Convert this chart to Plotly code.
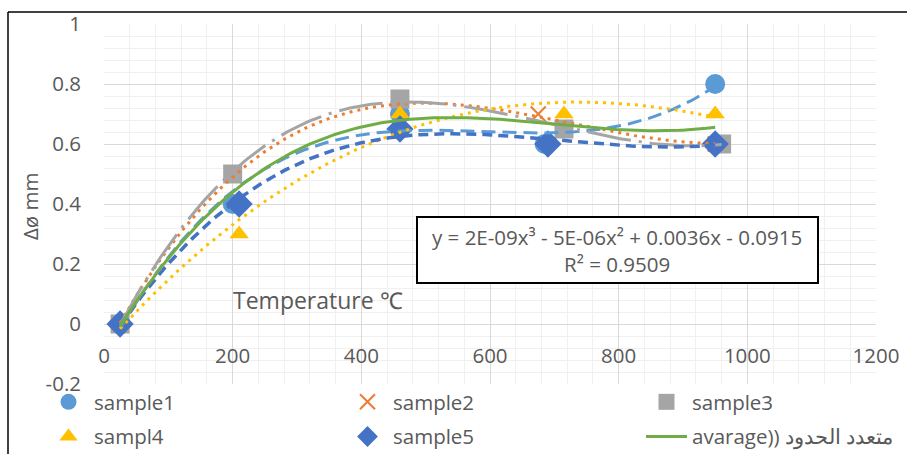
import numpy as np
import plotly.graph_objects as go

# ---- data ----
s1_x = [25, 200, 460, 685, 950]
s1_y = [0, 0.40, 0.70, 0.60, 0.80]
s2_x = [25, 200, 460, 675, 950]
s2_y = [0, 0.50, 0.72, 0.70, 0.60]
s3_x = [25, 200, 460, 715, 960]
s3_y = [0, 0.50, 0.75, 0.65, 0.60]
s4_x = [25, 210, 460, 715, 950]
s4_y = [0, 0.30, 0.70, 0.70, 0.70]
s5_x = [25, 210, 460, 690, 950]
s5_y = [0, 0.40, 0.65, 0.60, 0.60]
avg_x = [25, 200, 460, 700, 950]
avg_y = list(np.mean([s1_y, s2_y, s3_y, s4_y, s5_y], axis=0))

x_ticks = [0, 200, 400, 600, 800, 1000, 1200]
x_tick_labels = ["0", "200", "400", "600", "800", "1000", "1200"]
y_ticks = [-0.2, 0, 0.2, 0.4, 0.6, 0.8, 1]
y_tick_labels = ["-0.2", "0", "0.2", "0.4", "0.6", "0.8", "1"]

names = ["sample1", "sample2", "sample3", "sampl4", "sample5"]
avg_name = "avarage)) متعدد الحدود"
equation = "y = 2E-09x³ - 5E-06x² + 0.0036x - 0.0915<br>R² = 0.9509"

FONT = "Open Sans"
TXT = "#595959"

W, H = 907, 454
ML, MR, MT, MB = 104, 31, 24, 70
PW, PH = W - ML - MR, H - MT - MB


def px_x(px):
    return (px - ML) / PW


def px_y(py):
    return (H - MB - py) / PH


def trend(xs, ys, deg):
    c = np.polyfit(xs, ys, deg)
    xx = np.linspace(min(xs), max(xs), 200)
    return xx, np.polyval(c, xx)


series = [
    (s1_x, s1_y, "circle", 20, "#5B9BD5", 3, "14px,7px", 3, "legend"),
    (s2_x, s2_y, "x-thin-open", 15, "#ED7D31", 3, "3px,5px", 3, "legend2"),
    (s3_x, s3_y, "square", 19, "#A5A5A5", 3, "44px,8px,3px,8px", 3, "legend3"),
    (s4_x, s4_y, "triangle-up", 17, "#FFC000", 3, "3px,5px", 3, "legend"),
    (s5_x, s5_y, "diamond", 21, "#4472C4", 3.5, "10px,6px", 3, "legend2"),
]

fig = go.Figure()

for i, (xs, ys, sym, size, col, lw, dash, deg, lg) in enumerate(series):
    mk = dict(symbol=sym, size=size, color=col)
    if sym == "x-thin-open":
        mk["line"] = dict(color=col, width=2)
    fig.add_trace(go.Scatter(
        x=xs, y=ys, mode="markers", name=names[i], marker=mk,
        legend=lg, legendgroup=names[i], hoverinfo="skip"))

for i, (xs, ys, sym, size, col, lw, dash, deg, lg) in enumerate(series):
    tx, ty = trend(xs, ys, deg)
    fig.add_trace(go.Scatter(
        x=tx, y=ty, mode="lines", line=dict(color=col, width=lw, dash=dash),
        showlegend=False, hoverinfo="skip"))

ax, ay = trend(avg_x, avg_y, 3)
fig.add_trace(go.Scatter(
    x=ax, y=ay, mode="lines", name=avg_name,
    line=dict(color="#70AD47", width=3), legend="legend3",
    legendgroup="avg", hoverinfo="skip"))

leg_common = dict(orientation="v", yanchor="top", xanchor="left",
                  y=px_y(382), bgcolor="rgba(0,0,0,0)", tracegroupgap=5,
                  font=dict(family=FONT, size=20.5, color=TXT),
                  itemsizing="trace", itemwidth=41)

fig.update_layout(
    width=W, height=H,
    margin=dict(l=ML, r=MR, t=MT, b=MB, autoexpand=False),
    paper_bgcolor="white", plot_bgcolor="white",
    font=dict(family=FONT, color=TXT),
    xaxis=dict(range=[0, 1200], tickvals=x_ticks, ticktext=x_tick_labels,
               showgrid=True, gridcolor="#d9d9d9", gridwidth=1,
               minor=dict(dtick=40, tick0=0, showgrid=True,
                          gridcolor="#f0f0f0", gridwidth=1),
               zeroline=False, showline=False, ticks="",
               anchor="free", position=0.2 / 1.2, ticklabelstandoff=17,
               tickfont=dict(family=FONT, size=20.5, color=TXT)),
    yaxis=dict(range=[-0.2, 1], tickvals=y_ticks, ticktext=y_tick_labels,
               showgrid=True, gridcolor="#d9d9d9", gridwidth=1,
               minor=dict(dtick=0.04, tick0=0, showgrid=True,
                          gridcolor="#f0f0f0", gridwidth=1),
               zeroline=True, zerolinecolor="#d9d9d9", zerolinewidth=1,
               showline=False, ticks="", ticklabelstandoff=22,
               tickfont=dict(family=FONT, size=20.5, color=TXT)),
    legend=dict(leg_common, x=px_x(43)),
    legend2=dict(leg_common, x=px_x(342)),
    legend3=dict(leg_common, x=px_x(641)),
    shapes=[
        dict(type="line", xref="paper", yref="paper",
             x0=px_x(8), x1=px_x(907), y0=px_y(12), y1=px_y(12),
             line=dict(color="black", width=1.5)),
        dict(type="line", xref="paper", yref="paper",
             x0=px_x(8), x1=px_x(8), y0=px_y(12), y1=px_y(454),
             line=dict(color="black", width=1.5)),
        dict(type="rect", xref="paper", yref="paper",
             x0=px_x(417), x1=px_x(818), y0=px_y(283), y1=px_y(217),
             line=dict(color="black", width=2), fillcolor="white", layer="above"),
    ],
    annotations=[
        dict(text=equation, xref="paper", yref="paper", x=px_x(617),
             y=px_y(250), xanchor="center", yanchor="middle",
             showarrow=False, align="center",
             font=dict(family=FONT, size=20.5, color=TXT)),
        dict(text="Temperature ℃", xref="paper", yref="paper", x=px_x(231),
             y=px_y(300), xanchor="left", yanchor="middle", showarrow=False,
             font=dict(family=FONT, size=23, color=TXT)),
        dict(text="Δø mm", xref="paper", yref="paper", x=px_x(30),
             y=px_y(206), xanchor="center", yanchor="middle",
             textangle=-90, showarrow=False,
             font=dict(family=FONT, size=20.5, color=TXT)),
    ],
)

fig.write_html("out.html", config={"displayModeBar": False},
               post_script="document.body.style.margin='0px';")
